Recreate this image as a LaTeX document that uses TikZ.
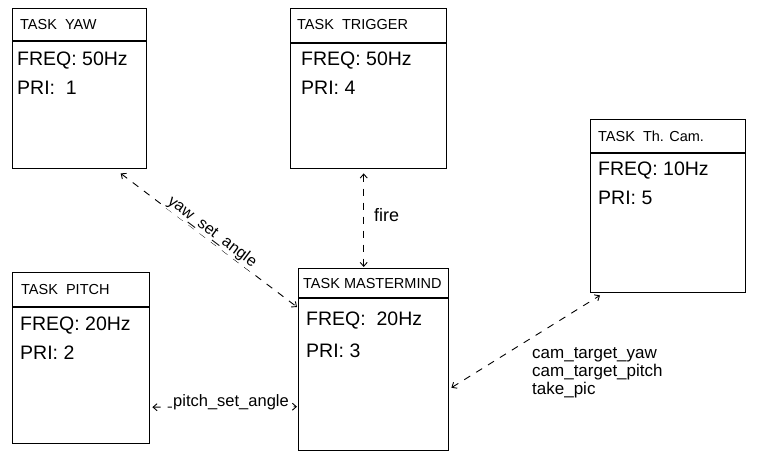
\documentclass[tikz,border=0pt]{standalone}
\usepackage{fontspec}
\setmainfont{Liberation Sans}
\usetikzlibrary{arrows.meta}
\begin{document}
\begin{tikzpicture}[x=1pt,y=-1pt,
  taskbox/.style={draw, line width=1.4pt, anchor=north west, inner sep=0pt},
  divider/.style={line width=1.4pt},
  ttl/.style={anchor=west, inner sep=0pt, font=\fontsize{14.5}{16}\selectfont},
  bodytxt/.style={anchor=west, inner sep=0pt, font=\fontsize{19.5}{22}\selectfont},
  conn/.style={line width=0.9pt, dash pattern=on 7pt off 7pt, {Straight Barb[length=4pt,width=7pt]}-{Straight Barb[length=4pt,width=7pt]}},
  lbl/.style={inner sep=1pt, font=\fontsize{16}{18}\selectfont}
]
\useasboundingbox (0,0) rectangle (774,470);
\fill[white] (0,0) rectangle (774,470);

% boxes
\node[taskbox, minimum width=134pt, minimum height=160pt] (yaw) at (12,8) {};
\draw[divider] (12,41) -- (146,41);
\node[ttl] (yawt) at (20,25) {TASK\ \ YAW};
\node[bodytxt] (yawf) at (17,61) {FREQ: 50Hz};
\node[bodytxt] (yawp) at (17,88) {PRI:\ \ 1};

\node[taskbox, minimum width=156pt, minimum height=160pt] (trig) at (290,8) {};
\draw[divider] (290,43) -- (446,43);
\node[ttl] (trigt) at (297,25) {TASK\ \ TRIGGER};
\node[bodytxt] (trigf) at (301,61) {FREQ: 50Hz};
\node[bodytxt] (trigp) at (301,88) {PRI: 4};

\node[taskbox, minimum width=155pt, minimum height=173pt] (cam) at (590,119) {};
\draw[divider] (590,153) -- (745,153);
\node[ttl] (camt) at (598,136) {TASK\ \ Th. Cam.};
\node[bodytxt] (camf) at (598,171) {FREQ: 10Hz};
\node[bodytxt] (camp) at (598,198) {PRI: 5};

\node[taskbox, minimum width=137pt, minimum height=171pt] (pitch) at (12,272) {};
\draw[divider] (12,307) -- (149,307);
\node[ttl] (pitcht) at (21,290) {TASK\ \ PITCH};
\node[bodytxt] (pitchf) at (20,326) {FREQ: 20Hz};
\node[bodytxt] (pitchp) at (20,353) {PRI: 2};

\node[taskbox, minimum width=150pt, minimum height=182pt] (master) at (298,268) {};
\draw[divider] (298,298) -- (448,298);
\node[ttl] (mastert) at (303,284) {TASK MASTERMIND};
\node[bodytxt] (masterf) at (306,321) {FREQ:\ \ 20Hz};
\node[bodytxt] (masterp) at (306,351) {PRI: 3};

% connectors
\draw[conn] ([xshift=41pt,yshift=-4pt]yaw.south) -- ([xshift=-1pt,yshift=-39pt]master.north west);
\node[lbl, rotate=-37, fill=white] (yawl) at (212,232) {yaw\_set\_angle};

\draw[conn] ([xshift=-5pt,yshift=-4pt]trig.south) -- ([xshift=-10pt,yshift=1pt]master.north);
\node[lbl, anchor=west, font=\fontsize{18}{20}\selectfont] (firel) at (373,215) {fire};

\draw[conn] ([xshift=2pt,yshift=-49pt]pitch.east) -- ([xshift=-1pt,yshift=-47pt]master.west);
\node[lbl, fill=white, font=\fontsize{16.5}{18}\selectfont] (pitchl) at (231,402) {pitch\_set\_angle};

\draw[conn] ([xshift=2pt,yshift=-28pt]master.east) -- ([xshift=10pt,yshift=-2pt]cam.south west);
\node[lbl, anchor=north west, align=left, font=\fontsize{17}{18}\selectfont] (caml) at (531,346) {cam\_target\_yaw\\cam\_target\_pitch\\take\_pic};
\end{tikzpicture}
\end{document}
